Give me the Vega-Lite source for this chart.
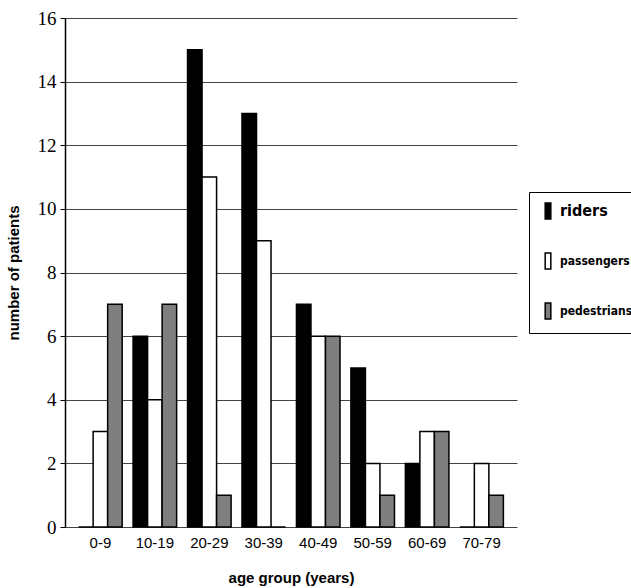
{
  "$schema": "https://vega.github.io/schema/vega-lite/v6.json",
  "autosize": "none",
  "width": 452,
  "height": 509,
  "padding": {"left": 65, "top": 18, "right": 114, "bottom": 61},
  "background": "white",
  "data": {
    "values": [
      {"age": "0-9", "group": "riders", "n": 0},
      {"age": "0-9", "group": "passengers", "n": 3},
      {"age": "0-9", "group": "pedestrians", "n": 7},
      {"age": "10-19", "group": "riders", "n": 6},
      {"age": "10-19", "group": "passengers", "n": 4},
      {"age": "10-19", "group": "pedestrians", "n": 7},
      {"age": "20-29", "group": "riders", "n": 15},
      {"age": "20-29", "group": "passengers", "n": 11},
      {"age": "20-29", "group": "pedestrians", "n": 1},
      {"age": "30-39", "group": "riders", "n": 13},
      {"age": "30-39", "group": "passengers", "n": 9},
      {"age": "30-39", "group": "pedestrians", "n": 0},
      {"age": "40-49", "group": "riders", "n": 7},
      {"age": "40-49", "group": "passengers", "n": 6},
      {"age": "40-49", "group": "pedestrians", "n": 6},
      {"age": "50-59", "group": "riders", "n": 5},
      {"age": "50-59", "group": "passengers", "n": 2},
      {"age": "50-59", "group": "pedestrians", "n": 1},
      {"age": "60-69", "group": "riders", "n": 2},
      {"age": "60-69", "group": "passengers", "n": 3},
      {"age": "60-69", "group": "pedestrians", "n": 3},
      {"age": "70-79", "group": "riders", "n": 0},
      {"age": "70-79", "group": "passengers", "n": 2},
      {"age": "70-79", "group": "pedestrians", "n": 1}
    ]
  },
  "mark": {"type": "bar", "stroke": "black", "strokeWidth": 1.5},
  "encoding": {
    "x": {
      "field": "age",
      "type": "nominal",
      "sort": null,
      "scale": {"paddingInner": 0.2, "paddingOuter": 0.25},
      "axis": {
        "title": "age group (years)",
        "titleFont": "Liberation Sans",
        "titleFontWeight": "bold",
        "titleFontSize": 15,
        "titleColor": "black",
        "titlePadding": 20,
        "labelFont": "Liberation Sans",
        "labelFontSize": 15,
        "labelColor": "black",
        "labelAngle": 0,
        "labelPadding": 8,
        "ticks": false,
        "domain": false
      }
    },
    "xOffset": {"field": "group", "type": "nominal", "sort": ["riders", "passengers", "pedestrians"]},
    "y": {
      "field": "n",
      "type": "quantitative",
      "scale": {"domain": [0, 16], "nice": false},
      "axis": {
        "title": "number of patients",
        "titleFont": "Liberation Sans",
        "titleFontWeight": "bold",
        "titleFontSize": 15,
        "titleColor": "black",
        "titlePadding": 16,
        "values": [0, 2, 4, 6, 8, 10, 12, 14, 16],
        "labelFont": "Liberation Serif",
        "labelFontSize": 19,
        "labelColor": "black",
        "labelPadding": 4,
        "grid": true,
        "gridColor": "#444",
        "gridWidth": 1,
        "domainColor": "black",
        "domainWidth": 1.5,
        "tickColor": "black",
        "tickSize": 5
      }
    },
    "fill": {
      "field": "group",
      "type": "nominal",
      "sort": ["riders", "passengers", "pedestrians"],
      "scale": {"domain": ["riders", "passengers", "pedestrians"], "range": ["black", "white", "#7f7f7f"]},
      "legend": {
        "title": null,
        "orient": "none",
        "legendX": 464,
        "legendY": 174,
        "strokeColor": "black",
        "fillColor": "white",
        "padding": 10,
        "symbolType": "M-0.35,-1H0.35V1H-0.35Z",
        "symbolSize": 260,
        "symbolStrokeColor": "black",
        "symbolStrokeWidth": 1.5,
        "labelFont": "'Liberation Sans Narrow', 'DejaVu Sans Condensed', 'Liberation Sans', sans-serif",
        "labelFontWeight": "bold",
        "labelFontSize": 12,
        "labelColor": "black",
        "rowPadding": 26,
        "labelOffset": 3,
        "encode": {
          "labels": {
            "update": {
              "fontSize": {"signal": "datum.label == 'riders' ? 16 : 12"}
            }
          }
        }
      }
    }
  },
  "config": {
    "view": {"stroke": null}
  }
}
